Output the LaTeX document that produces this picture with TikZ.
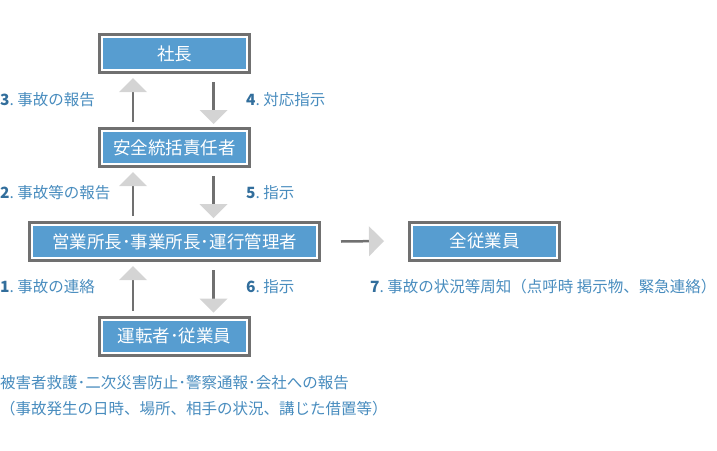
\documentclass[tikz,border=0pt]{standalone}
\usepackage{fontspec}
\setmainfont{Noto Sans CJK JP}
\usetikzlibrary{arrows.meta}
\definecolor{boxblue}{RGB}{87,157,208}
\definecolor{framegray}{RGB}{112,112,112}
\definecolor{headgray}{RGB}{212,212,212}
\definecolor{txtblue}{RGB}{72,140,190}
\definecolor{numblue}{RGB}{50,110,156}
\tikzset{
	box/.style={preaction={draw=framegray,line width=8pt},fill=boxblue,draw=white,line width=2pt,
		text=white,font=\fontsize{17.5}{20}\selectfont,minimum width=145pt,minimum height=33pt,inner sep=0pt},
	lbl/.style={anchor=west,inner sep=0pt,text=txtblue,font=\fontsize{15.5}{18}\selectfont},
	flow/.style={draw=framegray,line width=2.5pt,
		-{Triangle[length=14pt,width=28pt,color=headgray,line width=0pt]}},
}
\newcommand{\stepno}[1]{{\color{numblue}\bfseries #1}.\ }
\begin{document}
\begin{tikzpicture}[x=1pt,y=-1pt]
		\useasboundingbox (0,0) rectangle (717,450);
		
		\node[box] (shacho) at (174.5,53.5) {社長};
		\node[box] (anzen) at (174.5,147.5) {安全統括責任者};
		\node[box,minimum width=285pt] (eigyo) at (174.5,241.5) {営業所長･事業所長･運行管理者};
		\node[box] (unten) at (174.5,336) {運転者･従業員};
		\node[box] (zenin) at (484.5,241) {全従業員};
		
		\draw[flow] ([xshift=-41.5pt,yshift=8pt]anzen.north) -- ([xshift=-41.5pt,yshift=-7pt]shacho.south);
		\draw[flow] ([xshift=39pt,yshift=-11pt]shacho.south) -- ([xshift=39pt,yshift=6pt]anzen.north);
		\draw[flow] ([xshift=-41.5pt,yshift=8pt]eigyo.north) -- ([xshift=-41.5pt,yshift=-7pt]anzen.south);
		\draw[flow] ([xshift=39pt,yshift=-11pt]anzen.south) -- ([xshift=39pt,yshift=6pt]eigyo.north);
		\draw[flow] ([xshift=-41.5pt,yshift=8pt]unten.north) -- ([xshift=-41.5pt,yshift=-7pt]eigyo.south);
		\draw[flow] ([xshift=39pt,yshift=-11pt]eigyo.south) -- ([xshift=39pt,yshift=6pt]unten.north);
		\draw[flow,-{Triangle[length=15pt,width=30pt,color=headgray,line width=0pt]}]
			([xshift=23pt]eigyo.east) -- ([xshift=-27pt]zenin.west);
		
		\node[lbl] (l3) at (0,100) {\stepno{3}事故の報告};
		\node[lbl] (l4) at (246,100) {\stepno{4}対応指示};
		\node[lbl] (l2) at (0,193) {\stepno{2}事故等の報告};
		\node[lbl] (l5) at (246,193) {\stepno{5}指示};
		\node[lbl] (l1) at (0,287) {\stepno{1}事故の連絡};
		\node[lbl] (l6) at (246,287) {\stepno{6}指示};
		\node[lbl] (l7) at (370,287) {\stepno{7}事故の状況等周知（点呼時 掲示物、緊急連絡）};
		\node[lbl] (act) at (0,383) {被害者救護･二次災害防止･警察通報･会社への報告};
		\node[lbl] (rep) at (0,409) {（事故発生の日時、場所、相手の状況、講じた借置等）};
\end{tikzpicture}
\end{document}
